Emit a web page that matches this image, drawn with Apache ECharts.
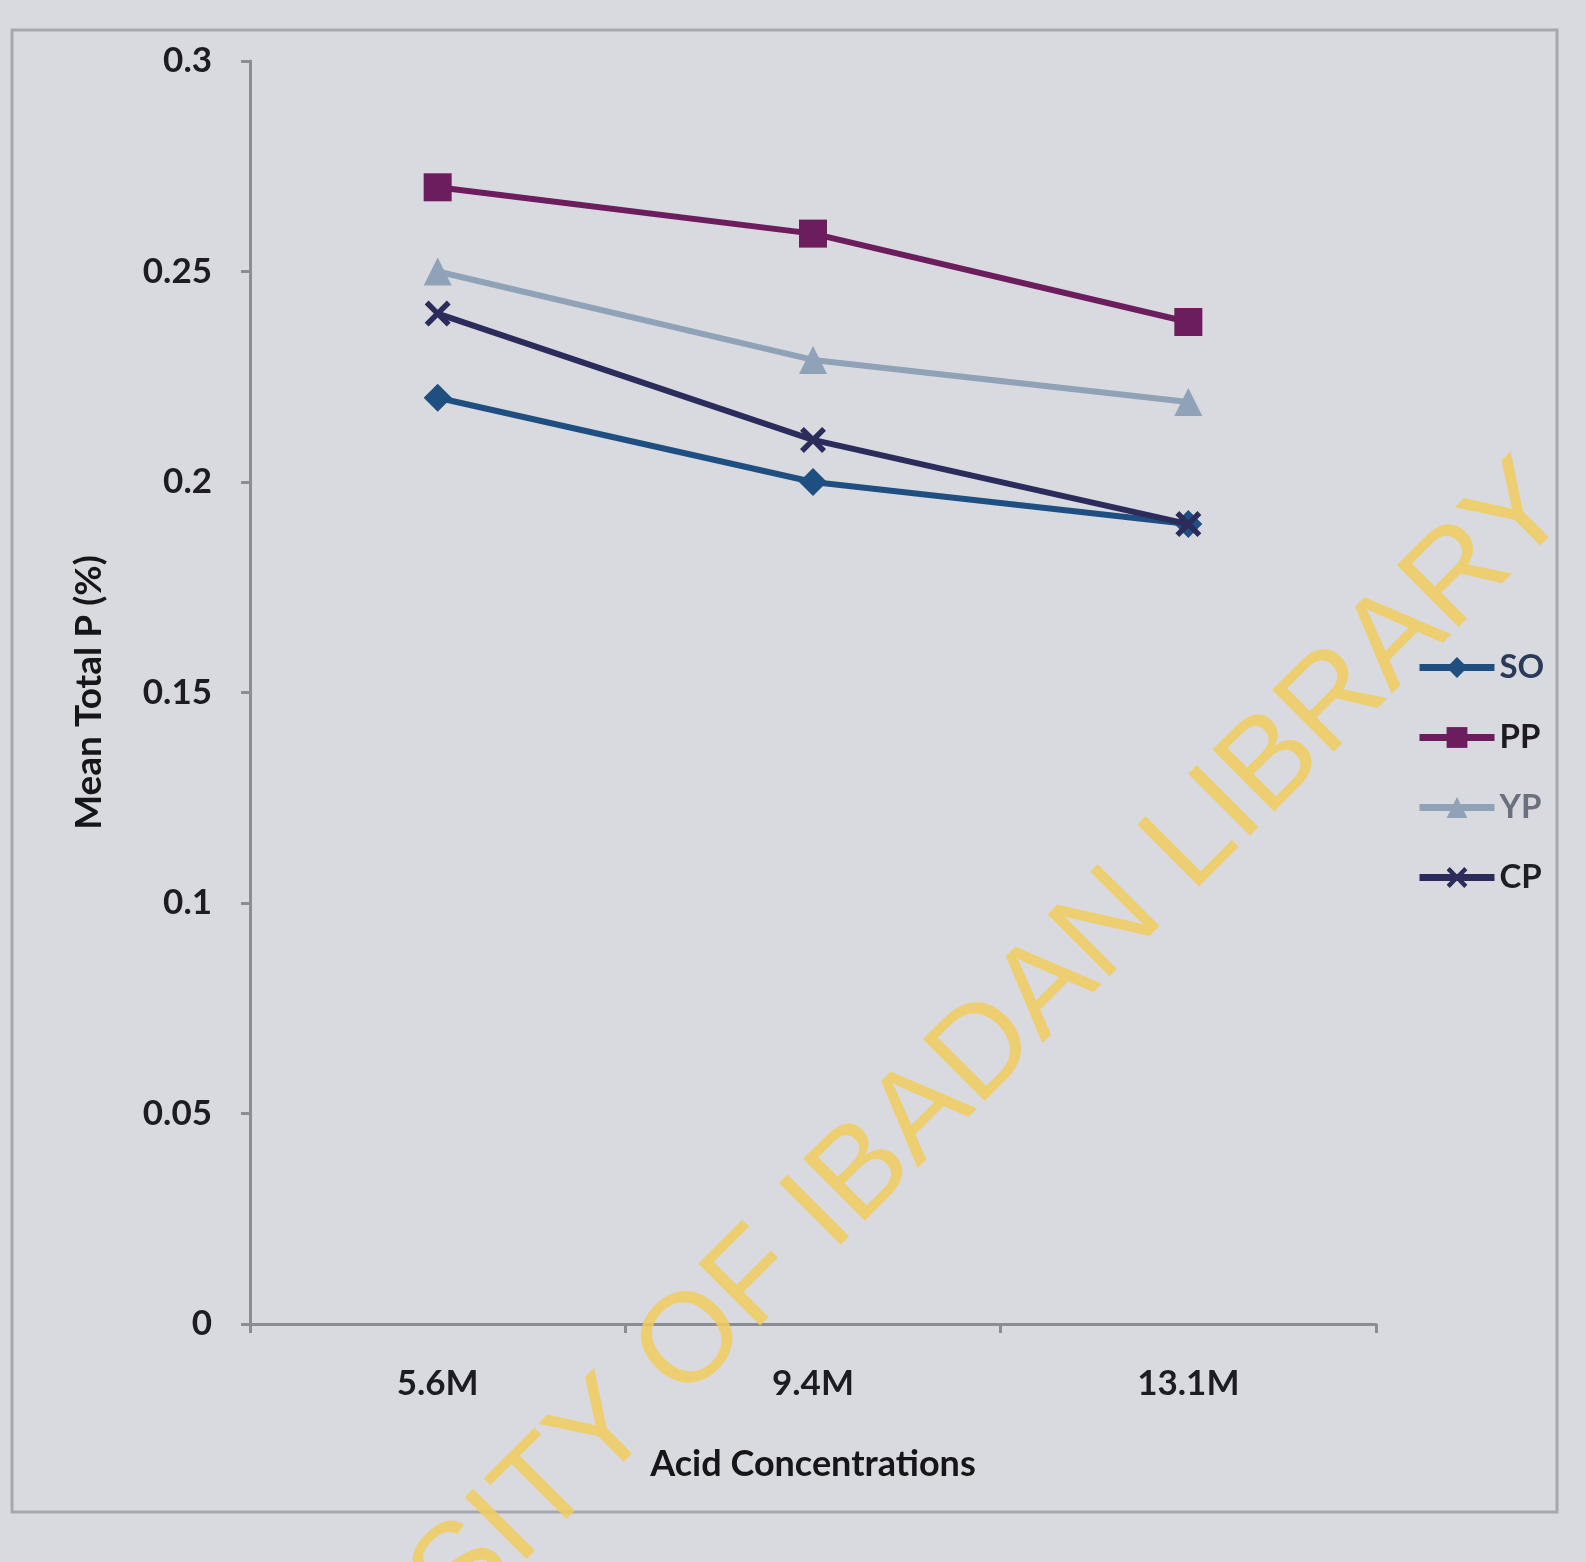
<!DOCTYPE html>
<html>
<head>
<meta charset="utf-8">
<script src="https://cdn.jsdelivr.net/npm/echarts@6/dist/echarts.min.js"></script>
<style>
html,body{margin:0;padding:0;background:#d9dadf;}
#chart{width:1586px;height:1562px;}
</style>
</head>
<body>
<div id="chart"></div>
<script>
const categories = ['5.6M', '9.4M', '13.1M'];
const seriesNames = ['SO', 'PP', 'YP', 'CP'];
const soValues = [0.22, 0.20, 0.19];
const ppValues = [0.27, 0.259, 0.238];
const ypValues = [0.25, 0.229, 0.219];
const cpValues = [0.24, 0.21, 0.19];
const yTicks = [0, 0.05, 0.1, 0.15, 0.2, 0.25, 0.3];

const colors = {SO:'#1f4f80', PP:'#6b1d5e', YP:'#8fa2b8', CP:'#2b2c5c'};
const legendTextColors = {SO:'#2b3a58', PP:'#1e1a22', YP:'#6c707c', CP:'#1e1e26'};
const xSymbol = 'path://M0,1.5L1.5,0L5,3.5L8.5,0L10,1.5L6.5,5L10,8.5L8.5,10L5,6.5L1.5,10L0,8.5L3.5,5Z';
const symbols = {SO:'diamond', PP:'rect', YP:'triangle', CP:xSymbol};
const dataMap = {SO:soValues, PP:ppValues, YP:ypValues, CP:cpValues};

const font = 'Lato, "Open Sans", sans-serif';
const chart = echarts.init(document.getElementById('chart'));

chart.setOption({
  backgroundColor: '#d9dadf',
  animation: false,
  grid: {left: 250, right: 210, top: 61, bottom: 238},
  xAxis: {
    type: 'category',
    data: categories,
    name: 'Acid Concentrations',
    nameLocation: 'middle',
    nameGap: 122,
    nameTextStyle: {fontFamily: font, fontWeight: 'bold', fontSize: 36, color: '#15151a'},
    axisLine: {lineStyle: {color: '#8a8d94', width: 3}},
    axisTick: {show: true, length: 9, lineStyle: {color: '#8a8d94', width: 3}},
    axisLabel: {fontFamily: font, fontWeight: 'bold', fontSize: 35, color: '#1c1c22', margin: 42}
  },
  yAxis: {
    type: 'value',
    min: yTicks[0],
    max: yTicks[yTicks.length - 1],
    interval: 0.05,
    name: 'Mean Total P (%)',
    nameLocation: 'middle',
    nameGap: 142,
    nameTextStyle: {fontFamily: font, fontWeight: 'bold', fontSize: 37, color: '#15151a'},
    splitLine: {show: false},
    axisLine: {show: true, lineStyle: {color: '#8a8d94', width: 3}},
    axisTick: {show: true, length: 9, lineStyle: {color: '#8a8d94', width: 3}},
    axisLabel: {fontFamily: font, fontWeight: 'bold', fontSize: 35, color: '#1c1c22', margin: 38}
  },
  legend: {
    orient: 'vertical',
    left: 1411,
    top: 646,
    itemWidth: 75,
    itemHeight: 26,
    itemGap: 37,
    lineStyle: {width: 7},
    textStyle: {fontFamily: font, fontWeight: 'bold', fontSize: 33},
    data: seriesNames.map(n => ({name: n, textStyle: {color: legendTextColors[n]}}))
  },
  series: seriesNames.map(n => ({
    name: n,
    type: 'line',
    data: dataMap[n],
    symbol: symbols[n],
    symbolSize: n === 'CP' ? 26 : 28,
    lineStyle: {color: colors[n], width: 6},
    itemStyle: {color: colors[n]},
    z: n === 'CP' ? 3 : 2
  })),
  graphic: [
    {
      type: 'rect',
      shape: {x: 12, y: 30, width: 1545, height: 1482},
      style: {fill: 'none', stroke: '#a7a8ad', lineWidth: 3},
      silent: true
    },
    {
      type: 'text',
      x: 822,
      y: 1214,
      rotation: Math.PI / 4,
      style: {
        text: 'UNIVERSITY OF IBADAN LIBRARY',
        fontFamily: '"Liberation Sans", Arial, sans-serif',
        fontSize: 127,
        fill: 'rgba(240, 205, 95, 0.85)',
        align: 'center',
        verticalAlign: 'middle'
      },
      z: 100,
      silent: true
    }
  ]
});
</script>
</body>
</html>
